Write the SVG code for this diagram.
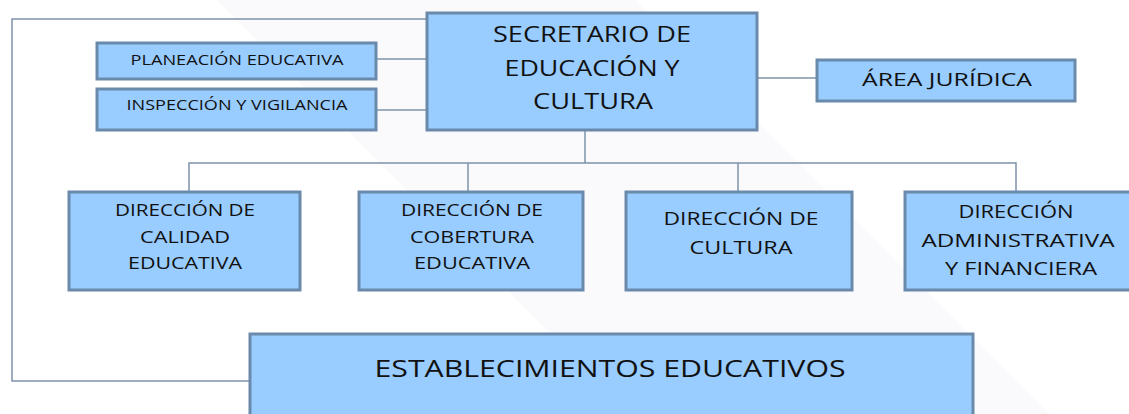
<svg xmlns="http://www.w3.org/2000/svg" width="1129" height="414" viewBox="0 0 1129 414">
<style>
.box{fill:#99ccff;stroke:#6a8aab;stroke-width:3}
.t{font-family:"Open Sans","Noto Sans",sans-serif;fill:#111;text-anchor:middle}
.c{fill:none;stroke:#7d93aa;stroke-width:1.5}
</style>
<rect width="1129" height="414" fill="#fff"/>
<polygon points="217,0 635,0 1049,414 631,414" fill="#fafafc"/>
<g id="connectors">
<polyline class="c" points="427,19 12,19 12,381 250,381"/>
<line class="c" x1="376" y1="59" x2="427" y2="59"/>
<line class="c" x1="376" y1="110" x2="427" y2="110"/>
<line class="c" x1="757" y1="78" x2="817" y2="78"/>
<line class="c" x1="585" y1="130" x2="585" y2="163"/>
<polyline class="c" points="189,192 189,163 1016,163 1016,192"/>
<line class="c" x1="468" y1="163" x2="468" y2="192"/>
<line class="c" x1="738" y1="163" x2="738" y2="192"/>
</g>
<g id="secretario">
<rect class="box" x="427" y="13" width="330" height="117"/>
<text class="t" font-size="22" x="592" y="42" textLength="198" lengthAdjust="spacingAndGlyphs">SECRETARIO DE</text>
<text class="t" font-size="22" x="592" y="76" textLength="175" lengthAdjust="spacingAndGlyphs">EDUCACIÓN Y</text>
<text class="t" font-size="22" x="593" y="109" textLength="120" lengthAdjust="spacingAndGlyphs">CULTURA</text>
</g>
<g id="planeacion">
<rect class="box" x="97" y="43" width="279" height="36"/>
<text class="t" font-size="14.5" x="237" y="65" textLength="213" lengthAdjust="spacingAndGlyphs">PLANEACIÓN EDUCATIVA</text>
</g>
<g id="inspeccion">
<rect class="box" x="97" y="89" width="279" height="41"/>
<text class="t" font-size="14.5" x="237" y="110" textLength="221" lengthAdjust="spacingAndGlyphs">INSPECCIÓN Y VIGILANCIA</text>
</g>
<g id="juridica">
<rect class="box" x="817" y="60" width="258" height="41"/>
<text class="t" font-size="19" x="947" y="86" textLength="170" lengthAdjust="spacingAndGlyphs">ÁREA JURÍDICA</text>
</g>
<g id="calidad">
<rect class="box" x="69" y="192" width="231" height="98"/>
<text class="t" font-size="16.5" x="185" y="216" textLength="140" lengthAdjust="spacingAndGlyphs">DIRECCIÓN DE</text>
<text class="t" font-size="16.5" x="185" y="243" textLength="90" lengthAdjust="spacingAndGlyphs">CALIDAD</text>
<text class="t" font-size="16.5" x="185" y="269" textLength="114" lengthAdjust="spacingAndGlyphs">EDUCATIVA</text>
</g>
<g id="cobertura">
<rect class="box" x="359" y="192" width="224" height="98"/>
<text class="t" font-size="16.5" x="472" y="216" textLength="142" lengthAdjust="spacingAndGlyphs">DIRECCIÓN DE</text>
<text class="t" font-size="16.5" x="472" y="243" textLength="124" lengthAdjust="spacingAndGlyphs">COBERTURA</text>
<text class="t" font-size="16.5" x="472" y="269" textLength="116" lengthAdjust="spacingAndGlyphs">EDUCATIVA</text>
</g>
<g id="cultura">
<rect class="box" x="626" y="192" width="226" height="98"/>
<text class="t" font-size="18.5" x="741" y="225" textLength="155" lengthAdjust="spacingAndGlyphs">DIRECCIÓN DE</text>
<text class="t" font-size="18.5" x="741" y="254" textLength="103" lengthAdjust="spacingAndGlyphs">CULTURA</text>
</g>
<g id="administrativa">
<rect class="box" x="905" y="192" width="226" height="98"/>
<text class="t" font-size="19" x="1016" y="218" textLength="115" lengthAdjust="spacingAndGlyphs">DIRECCIÓN</text>
<text class="t" font-size="19" x="1018" y="247" textLength="193" lengthAdjust="spacingAndGlyphs">ADMINISTRATIVA</text>
<text class="t" font-size="19" x="1021" y="275" textLength="152" lengthAdjust="spacingAndGlyphs">Y FINANCIERA</text>
</g>
<g id="establecimientos">
<rect class="box" x="250" y="334" width="723" height="84"/>
<text class="t" font-size="24" x="610" y="377" textLength="471" lengthAdjust="spacingAndGlyphs">ESTABLECIMIENTOS EDUCATIVOS</text>
</g>
</svg>
